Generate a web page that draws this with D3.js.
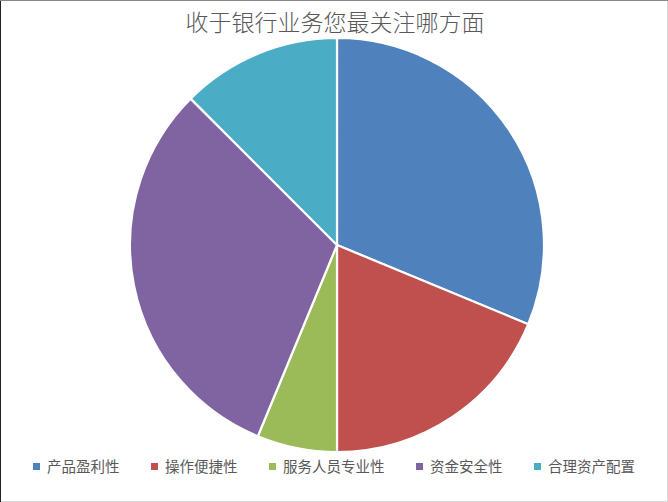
<!DOCTYPE html>
<html><head><meta charset="utf-8">
<script src="https://cdn.jsdelivr.net/npm/d3@7"></script>
<style>html,body{margin:0;padding:0;background:#fff;}svg{display:block;}</style>
</head><body>
<svg id="c" width="668" height="502"></svg>
<script>
const categories = ["产品盈利性","操作便捷性","服务人员专业性","资金安全性","合理资产配置"];
const values = [5, 3, 1, 5, 2];
const colors = ["#4F81BD","#C0504D","#9BBB59","#8064A2","#4BACC6"];
const title = "收于银行业务您最关注哪方面";

const svg = d3.select("#c");
const W = 668, H = 502;
svg.append("rect").attr("x",0.5).attr("y",0.5).attr("width",W-1).attr("height",H-1)
  .attr("fill","#fff").attr("stroke","#d9d9d9");
svg.append("line").attr("x1",0.5).attr("x2",0.5).attr("y1",0).attr("y2",H).attr("stroke","#222");
svg.append("line").attr("x1",0).attr("x2",W).attr("y1",0.5).attr("y2",0.5).attr("stroke","#888");

svg.append("text").attr("x",335).attr("y",31).attr("text-anchor","middle")
  .attr("font-family","'Noto Sans CJK SC', sans-serif").attr("font-size",23).attr("font-weight",300)
  .attr("fill","#595959").text(title);

const cx = 337, cy = 245, r = 207;
const pie = d3.pie().sort(null).value(d => d)(values);
const arc = d3.arc().innerRadius(0).outerRadius(r);
const color = d3.scaleOrdinal().domain(categories).range(colors);
svg.append("g").attr("transform",`translate(${cx},${cy})`)
  .selectAll("path").data(pie).join("path")
  .attr("d",arc).attr("fill",(d,i)=>color(categories[i]))
  .attr("stroke","#fff").attr("stroke-width",2.2).attr("stroke-linejoin","round");

const legendX = [33, 151, 269, 416, 534];
const lg = svg.append("g");
categories.forEach((c,i)=>{
  lg.append("rect").attr("x",legendX[i]).attr("y",463).attr("width",7).attr("height",7).attr("fill",color(c));
  lg.append("text").attr("x",legendX[i]+14).attr("y",472)
    .attr("font-family","'Noto Sans CJK SC', sans-serif").attr("font-size",14.5)
    .attr("fill","#595959").text(c);
});
</script>
</body></html>
